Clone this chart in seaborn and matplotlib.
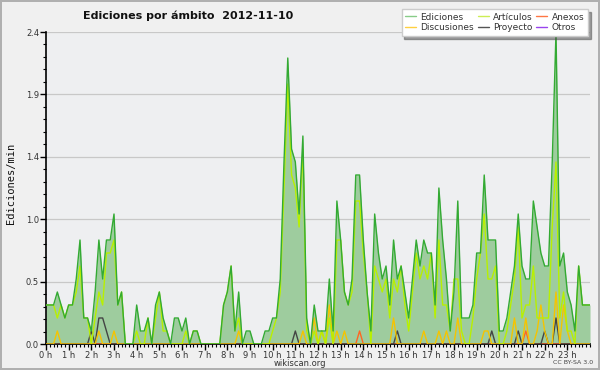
import numpy as np
import pandas as pd
import matplotlib
matplotlib.use("Agg")
import matplotlib.pyplot as plt
from matplotlib.lines import Line2D
from matplotlib.ticker import FixedLocator, MultipleLocator, FormatStrFormatter
import seaborn as sns

# edits per minute, one value every 10 minutes, 0 h .. 24 h (one row per hour)
ediciones = [0.3, 0.3, 0.3, 0.4, 0.3, 0.2,
             0.3, 0.3, 0.5, 0.8, 0.2, 0.2,
             0.1, 0.4, 0.8, 0.5, 0.8, 0.8,
             1.0, 0.3, 0.4, 0.0, 0.0, 0.0,
             0.3, 0.1, 0.1, 0.2, 0.0, 0.3,
             0.4, 0.2, 0.1, 0.0, 0.2, 0.2,
             0.1, 0.2, 0.0, 0.1, 0.1, 0.0,
             0.0, 0.0, 0.0, 0.0, 0.0, 0.3,
             0.4, 0.6, 0.1, 0.4, 0.0, 0.1,
             0.1, 0.0, 0.0, 0.0, 0.1, 0.1,
             0.2, 0.2, 0.5, 1.4, 2.2, 1.5,
             1.4, 1.0, 1.6, 0.2, 0.0, 0.3,
             0.1, 0.1, 0.1, 0.5, 0.1, 1.1,
             0.8, 0.4, 0.3, 0.5, 1.3, 1.3,
             0.8, 0.4, 0.1, 1.0, 0.7, 0.5,
             0.6, 0.3, 0.8, 0.5, 0.6, 0.4,
             0.2, 0.5, 0.8, 0.6, 0.8, 0.7,
             0.7, 0.3, 1.2, 0.8, 0.5, 0.1,
             0.4, 1.1, 0.2, 0.2, 0.2, 0.3,
             0.7, 0.7, 1.3, 0.8, 0.8, 0.8,
             0.1, 0.1, 0.2, 0.4, 0.6, 1.0,
             0.6, 0.5, 0.5, 1.1, 0.9, 0.7,
             0.6, 0.6, 1.4, 2.4, 0.6, 0.7,
             0.4, 0.3, 0.1, 0.6, 0.3, 0.3,
             0.3]

articulos = [0.3, 0.3, 0.3, 0.2, 0.3, 0.2,
             0.3, 0.3, 0.4, 0.6, 0.2, 0.2,
             0.0, 0.2, 0.4, 0.3, 0.7, 0.7,
             0.8, 0.3, 0.4, 0.0, 0.0, 0.0,
             0.1, 0.0, 0.0, 0.2, 0.0, 0.2,
             0.4, 0.1, 0.1, 0.0, 0.0, 0.0,
             0.0, 0.1, 0.0, 0.1, 0.1, 0.0,
             0.0, 0.0, 0.0, 0.0, 0.0, 0.3,
             0.4, 0.6, 0.1, 0.2, 0.0, 0.0,
             0.0, 0.0, 0.0, 0.0, 0.0, 0.0,
             0.1, 0.2, 0.4, 1.2, 2.0, 1.3,
             1.2, 0.9, 1.5, 0.1, 0.0, 0.1,
             0.0, 0.1, 0.0, 0.2, 0.0, 0.8,
             0.8, 0.4, 0.3, 0.4, 1.1, 1.1,
             0.7, 0.4, 0.0, 0.6, 0.5, 0.4,
             0.5, 0.2, 0.5, 0.4, 0.6, 0.3,
             0.1, 0.4, 0.7, 0.5, 0.6, 0.5,
             0.7, 0.2, 0.8, 0.3, 0.3, 0.1,
             0.5, 0.5, 0.1, 0.0, 0.0, 0.2,
             0.5, 0.7, 1.0, 0.5, 0.5, 0.6,
             0.0, 0.0, 0.1, 0.3, 0.5, 0.9,
             0.2, 0.3, 0.3, 0.6, 0.2, 0.2,
             0.2, 0.2, 0.9, 1.4, 0.2, 0.4,
             0.1, 0.1, 0.0, 0.6, 0.3, 0.3,
             0.3]

discusiones = [0.0, 0.0, 0.0, 0.1, 0.0, 0.0,
               0.0, 0.0, 0.0, 0.0, 0.0, 0.0,
               0.0, 0.0, 0.1, 0.0, 0.0, 0.0,
               0.1, 0.0, 0.0, 0.0, 0.0, 0.0,
               0.0, 0.0, 0.0, 0.0, 0.0, 0.0,
               0.0, 0.0, 0.0, 0.0, 0.0, 0.0,
               0.0, 0.0, 0.0, 0.0, 0.0, 0.0,
               0.0, 0.0, 0.0, 0.0, 0.0, 0.0,
               0.0, 0.0, 0.0, 0.1, 0.0, 0.0,
               0.0, 0.0, 0.0, 0.0, 0.0, 0.0,
               0.0, 0.0, 0.0, 0.0, 0.0, 0.0,
               0.0, 0.0, 0.1, 0.0, 0.0, 0.2,
               0.0, 0.1, 0.0, 0.3, 0.0, 0.1,
               0.0, 0.1, 0.0, 0.0, 0.0, 0.0,
               0.0, 0.0, 0.0, 0.0, 0.0, 0.0,
               0.0, 0.0, 0.2, 0.0, 0.0, 0.0,
               0.0, 0.0, 0.0, 0.0, 0.1, 0.0,
               0.0, 0.0, 0.1, 0.0, 0.1, 0.0,
               0.0, 0.2, 0.0, 0.0, 0.0, 0.0,
               0.0, 0.0, 0.1, 0.1, 0.0, 0.0,
               0.0, 0.0, 0.0, 0.0, 0.2, 0.0,
               0.0, 0.2, 0.0, 0.0, 0.1, 0.3,
               0.1, 0.0, 0.0, 0.4, 0.0, 0.3,
               0.1, 0.0, 0.0, 0.0, 0.0, 0.0,
               0.0]

proyecto = [0.0, 0.0, 0.0, 0.0, 0.0, 0.0,
            0.0, 0.0, 0.0, 0.0, 0.0, 0.0,
            0.1, 0.0, 0.2, 0.2, 0.1, 0.0,
            0.0, 0.0, 0.0, 0.0, 0.0, 0.0,
            0.0, 0.0, 0.0, 0.0, 0.0, 0.0,
            0.0, 0.0, 0.0, 0.0, 0.0, 0.0,
            0.0, 0.0, 0.0, 0.0, 0.0, 0.0,
            0.0, 0.0, 0.0, 0.0, 0.0, 0.0,
            0.0, 0.0, 0.0, 0.0, 0.0, 0.0,
            0.0, 0.0, 0.0, 0.0, 0.0, 0.0,
            0.0, 0.0, 0.0, 0.0, 0.0, 0.0,
            0.1, 0.0, 0.0, 0.0, 0.0, 0.0,
            0.0, 0.0, 0.0, 0.0, 0.0, 0.0,
            0.0, 0.0, 0.0, 0.0, 0.0, 0.0,
            0.0, 0.0, 0.0, 0.0, 0.0, 0.0,
            0.0, 0.0, 0.0, 0.1, 0.0, 0.0,
            0.0, 0.0, 0.0, 0.0, 0.0, 0.0,
            0.0, 0.0, 0.0, 0.0, 0.0, 0.0,
            0.0, 0.0, 0.0, 0.0, 0.0, 0.0,
            0.0, 0.0, 0.0, 0.0, 0.1, 0.0,
            0.0, 0.0, 0.0, 0.0, 0.0, 0.1,
            0.0, 0.0, 0.0, 0.0, 0.0, 0.0,
            0.1, 0.0, 0.0, 0.2, 0.0, 0.0,
            0.0, 0.0, 0.0, 0.0, 0.0, 0.0,
            0.0]

anexos = [0.0] * 145
anexos[83] = 0.1
anexos[127] = 0.1

otros = [0.0] * 145

hour_labels = [f"{h} h" for h in range(24)]

df = pd.DataFrame({
    "hora": np.arange(len(ediciones)) / 6,
    "Ediciones": ediciones,
    "Artículos": articulos,
    "Anexos": anexos,
    "Discusiones": discusiones,
    "Proyecto": proyecto,
    "Otros": otros,
})

colors = {
    "Ediciones": "#33aa33",
    "Artículos": "#b8f000",
    "Anexos": "#ff6622",
    "Discusiones": "#f5c400",
    "Proyecto": "#444444",
    "Otros": "#9933ee",
}
legend_colors = {
    "Ediciones": "#88cc88",
    "Discusiones": "#ffd040",
    "Artículos": "#ccee55",
    "Proyecto": "#555555",
    "Anexos": "#ff7744",
    "Otros": "#9944ee",
}

sns.set_style("ticks")
plt.rcParams["font.family"] = ["DejaVu Sans"]

fig = plt.figure(figsize=(6, 3.7), dpi=100, facecolor="#f0f0f0")
fig.patch.set_edgecolor("#b0b0b0")
fig.patch.set_linewidth(1.5)
ax = fig.add_axes([46 / 600, 1 - 344 / 370, 544 / 600, 312 / 370])
ax.set_facecolor("#eeeff1")

ax.fill_between(df["hora"], df["Ediciones"], color="#9ecc9e", linewidth=0, zorder=1)
for name in ["Otros", "Anexos", "Proyecto", "Discusiones", "Artículos", "Ediciones"]:
    sns.lineplot(data=df, x="hora", y=name, ax=ax, color=colors[name],
                 linewidth=1.0, zorder=3)

ax.set_xlim(0, 24)
ax.set_ylim(0, 2.4)
ax.xaxis.set_major_locator(FixedLocator(range(24)))
ax.set_xticklabels(hour_labels)
ax.xaxis.set_minor_locator(MultipleLocator(1 / 6))
ax.yaxis.set_major_locator(FixedLocator([0, 0.48, 0.96, 1.44, 1.92, 2.4]))
ax.yaxis.set_major_formatter(FormatStrFormatter("%.1f"))
ax.yaxis.set_minor_locator(MultipleLocator(0.096))
ax.tick_params(axis="both", which="major", labelsize=6, length=4, width=1,
               colors="#000000", labelcolor="#333333", pad=1)
ax.tick_params(axis="both", which="minor", length=2.5, width=0.8, colors="#000000")
ax.grid(axis="y", which="major", color="#c8c8c8", linewidth=0.9)
ax.set_axisbelow(True)
for s in ["top", "right"]:
    ax.spines[s].set_visible(False)
for s in ["left", "bottom"]:
    ax.spines[s].set_color("#000000")
    ax.spines[s].set_linewidth(1.2)
ax.set_xlabel("")
ax.set_ylabel("")

fig.text(0.313, 0.957, "Ediciones por ámbito  2012-11-10", ha="center", va="center",
         fontsize=8, fontweight="bold", color="#111111")
fig.text(0.018, 0.505, "Ediciones/min", rotation=90, ha="center", va="center",
         fontsize=7.5, family="DejaVu Sans Mono", color="#111111")
fig.text(0.5, 0.017, "wikiscan.org", ha="center", va="center", fontsize=6, color="#333333")
fig.text(0.955, 0.019, "CC BY-SA 3.0", ha="center", va="center", fontsize=4.5, color="#444444")

order = ["Ediciones", "Discusiones", "Artículos", "Proyecto", "Anexos", "Otros"]
handles = [Line2D([], [], color=legend_colors[n], linewidth=1) for n in order]
leg = fig.legend(handles, order, loc="upper right", bbox_to_anchor=(588 / 600, 1 - 9 / 370),
                 ncol=3, fontsize=6.5, frameon=True, fancybox=False, shadow=True,
                 handlelength=1.2, handletextpad=0.5, columnspacing=0.4,
                 labelspacing=0.2, borderpad=0.4, borderaxespad=0)
leg.get_frame().set_facecolor("#ffffff")
leg.get_frame().set_edgecolor("#cccccc")
for t in leg.get_texts():
    t.set_color("#333333")

fig.savefig("out.png", dpi=100, facecolor=fig.get_facecolor(), edgecolor=fig.patch.get_edgecolor())
